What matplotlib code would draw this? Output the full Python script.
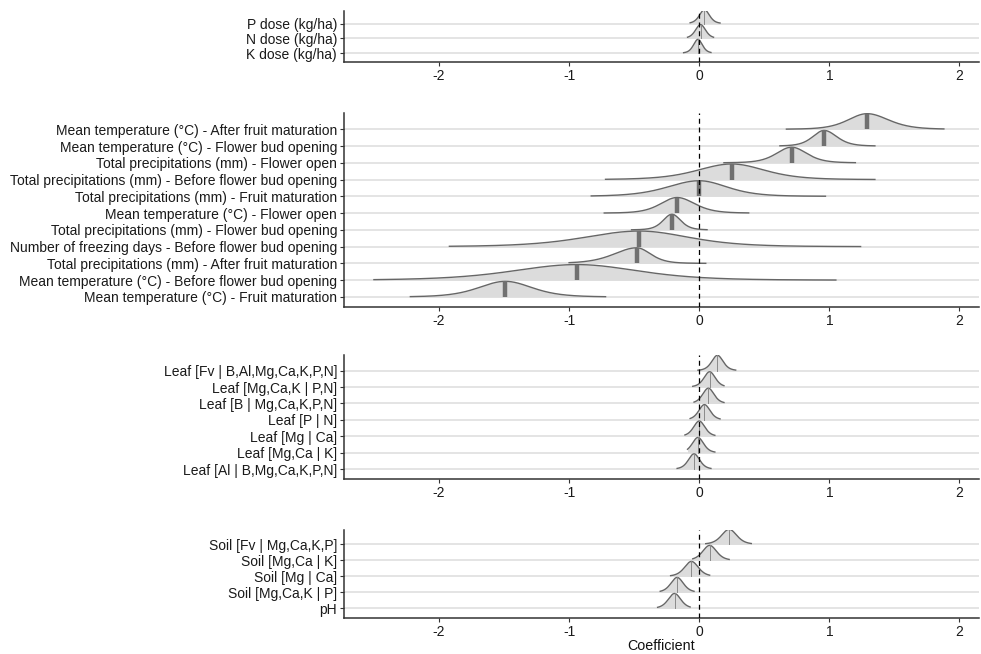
import numpy as np
import matplotlib
matplotlib.use('Agg')
import matplotlib.pyplot as plt

plt.rcParams['font.family'] = ['Liberation Sans', 'DejaVu Sans']
plt.rcParams['axes.unicode_minus'] = False

# panel 1 - fertiliser doses
dose_labels = ['P dose (kg/ha)', 'N dose (kg/ha)', 'K dose (kg/ha)']
dose_med = [0.04, 0.01, -0.01]
dose_sl = [0.04, 0.04, 0.035]
dose_sr = [0.04, 0.04, 0.035]
dose_lo = [-0.07, -0.09, -0.12]
dose_hi = [0.16, 0.11, 0.09]

# panel 2 - weather
wx_labels = ['Mean temperature (°C) - After fruit maturation',
             'Mean temperature (°C) - Flower bud opening',
             'Total precipitations (mm) - Flower open',
             'Total precipitations (mm) - Before flower bud opening',
             'Total precipitations (mm) - Fruit maturation',
             'Mean temperature (°C) - Flower open',
             'Total precipitations (mm) - Flower bud opening',
             'Number of freezing days - Before flower bud opening',
             'Total precipitations (mm) - After fruit maturation',
             'Mean temperature (°C) - Before flower bud opening',
             'Mean temperature (°C) - Fruit maturation']
wx_med = [1.29, 0.96, 0.71, 0.25, 0.0, -0.17, -0.21, -0.46, -0.48, -0.94, -1.49]
wx_sl = [0.15, 0.09, 0.12, 0.27, 0.25, 0.13, 0.07, 0.43, 0.18, 0.50, 0.21]
wx_sr = [0.17, 0.10, 0.12, 0.26, 0.22, 0.14, 0.07, 0.39, 0.11, 0.48, 0.21]
wx_lo = [0.67, 0.62, 0.19, -0.72, -0.83, -0.73, -0.52, -1.92, -1.00, -2.50, -2.22]
wx_hi = [1.88, 1.35, 1.20, 1.35, 0.97, 0.38, 0.06, 1.24, 0.05, 1.05, -0.72]

# panel 3 - leaf balances
leaf_labels = ['Leaf [Fv | B,Al,Mg,Ca,K,P,N]', 'Leaf [Mg,Ca,K | P,N]',
               'Leaf [B | Mg,Ca,K,P,N]', 'Leaf [P | N]', 'Leaf [Mg | Ca]',
               'Leaf [Mg,Ca | K]', 'Leaf [Al | B,Mg,Ca,K,P,N]']
leaf_med = [0.14, 0.08, 0.07, 0.04, 0.0, -0.01, -0.04]
leaf_sl = [0.045, 0.045, 0.045, 0.045, 0.045, 0.045, 0.045]
leaf_sr = [0.045, 0.045, 0.045, 0.045, 0.045, 0.045, 0.045]
leaf_lo = [-0.01, -0.05, -0.04, -0.07, -0.11, -0.09, -0.17]
leaf_hi = [0.28, 0.19, 0.19, 0.16, 0.12, 0.12, 0.09]

# panel 4 - soil
soil_labels = ['Soil [Fv | Mg,Ca,K,P]', 'Soil [Mg,Ca | K]', 'Soil [Mg | Ca]',
               'Soil [Mg,Ca,K | P]', 'pH']
soil_med = [0.23, 0.08, -0.06, -0.17, -0.19]
soil_sl = [0.06, 0.055, 0.055, 0.05, 0.05]
soil_sr = [0.06, 0.055, 0.055, 0.05, 0.05]
soil_lo = [0.05, -0.05, -0.22, -0.30, -0.32]
soil_hi = [0.40, 0.23, 0.08, -0.04, -0.07]

W, H = 981, 654
fig = plt.figure(figsize=(W / 100, H / 100), dpi=100)

FILL = '#dcdcdc'
EDGE = '#666666'
TXT = '#333333'


def ridge_panel(top, bottom, labels, med, sl, sr, lo, hi, ytop, thick):
    ax = fig.add_axes([344 / W, 1 - bottom / H, (979 - 344) / W, (bottom - top) / H])
    n = len(labels)
    ypos = np.arange(n)[::-1]
    for i in range(n):
        y0 = ypos[i]
        xs = np.linspace(lo[i], hi[i], 400)
        s = np.where(xs < med[i], sl[i], sr[i])
        z = (xs - med[i]) / s
        d = (1 + z ** 2 / 6) ** -3.5
        h = d / d.max() * 0.93
        zo = 3 + i * 0.1
        ax.fill_between(xs, y0, y0 + h, color=FILL, lw=0, zorder=zo)
        ax.plot(xs, y0 + h, color=EDGE, lw=1.0, zorder=zo + 0.01)
        hm = np.interp(med[i], xs, h)
        if thick:
            ax.plot([med[i], med[i]], [y0, y0 + hm], color='#707070', lw=3.2,
                    solid_capstyle='butt', zorder=zo + 0.02)
        else:
            ax.plot([med[i], med[i]], [y0, y0 + hm], color='#8a8a8a', lw=0.7,
                    zorder=zo + 0.02)
    ax.axvline(0, color='black', ls=(0, (4, 3)), lw=0.9, zorder=20)
    ax.set_xlim(-2.73, 2.15)
    ax.set_ylim(-0.6, n - 1 + ytop)
    ax.set_yticks(ypos)
    ax.set_yticklabels(labels)
    ax.set_xticks([-2, -1, 0, 1, 2])
    ax.set_xticklabels(['-2', '-1', '0', '1', '2'])
    ax.grid(axis='y', color='#e2e2e2', lw=1.3, zorder=0)
    ax.set_axisbelow(True)
    for sp in ['top', 'right']:
        ax.spines[sp].set_visible(False)
    for sp in ['left', 'bottom']:
        ax.spines[sp].set_color(TXT)
        ax.spines[sp].set_linewidth(1.1)
    ax.tick_params(axis='both', colors=TXT, labelsize=10, length=3, width=0.8,
                   labelcolor='#1a1a1a', pad=2)
    return ax


ridge_panel(11, 62, dose_labels, dose_med, dose_sl, dose_sr, dose_lo, dose_hi, 0.85, False)
ridge_panel(113, 307, wx_labels, wx_med, wx_sl, wx_sr, wx_lo, wx_hi, 0.97, True)
ridge_panel(355, 479, leaf_labels, leaf_med, leaf_sl, leaf_sr, leaf_lo, leaf_hi, 0.95, False)
ax4 = ridge_panel(530, 618, soil_labels, soil_med, soil_sl, soil_sr, soil_lo, soil_hi, 0.89, False)
ax4.set_xlabel('Coefficient', fontsize=10.3, color='#111111', labelpad=0)

fig.savefig('out.png', dpi=100)
